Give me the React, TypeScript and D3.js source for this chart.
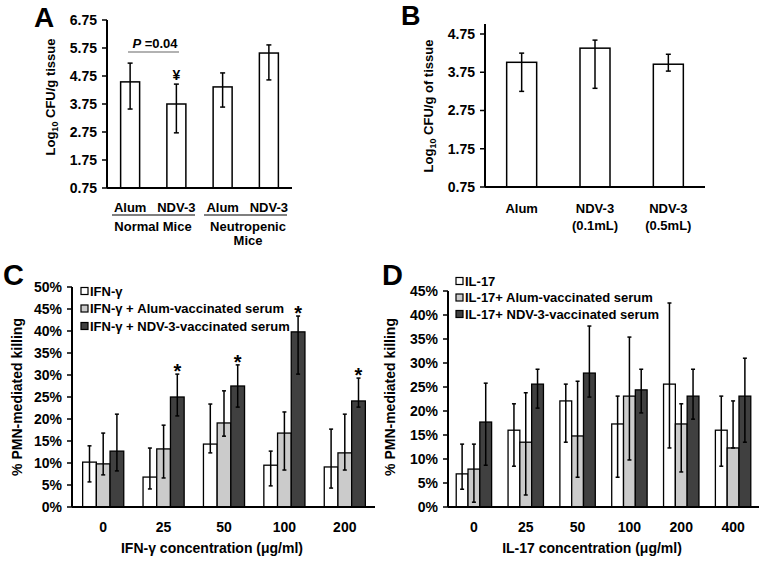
import React from "react";
import * as d3 from "d3";

// ---------- Panel A data ----------
const aCategories = ["Normal Alum", "Normal NDV-3", "Neutropenic Alum", "Neutropenic NDV-3"];
const aValues = [4.54, 3.75, 4.36, 5.57];
const aErrHigh = [5.21, 4.46, 4.86, 5.86];
const aErrLow = [3.57, 2.72, 3.64, 4.61];
const aTicks = [0.75, 1.75, 2.75, 3.75, 4.75, 5.75, 6.75];

// ---------- Panel B data ----------
const bCategories = ["Alum", "NDV-3 (0.1mL)", "NDV-3 (0.5mL)"];
const bValues = [4.01, 4.38, 3.96];
const bErrHigh = [4.25, 4.59, 4.22];
const bErrLow = [3.25, 3.33, 3.78];
const bTicks = [0.75, 1.75, 2.75, 3.75, 4.75];

// ---------- Panel C data ----------
const cCategories = ["0", "25", "50", "100", "200"];
const cSeries = ["IFN-γ", "IFN-γ + Alum-vaccinated serum", "IFN-γ + NDV-3-vaccinated serum"];
const cIfn = [10.2, 6.8, 14.3, 9.5, 9.1];
const cIfnHigh = [13.9, 13.4, 23.4, 12.7, 17.7];
const cIfnLow = [5.7, 4.1, 12.3, 4.8, 4.3];
const cAlum = [9.8, 13.2, 19.1, 16.8, 12.3];
const cAlumHigh = [16.8, 18.6, 26.4, 21.6, 21.1];
const cAlumLow = [7.3, 6.6, 16.1, 8.4, 8.4];
const cNdv = [12.7, 25.0, 27.5, 39.8, 24.1];
const cNdvHigh = [21.1, 30.2, 32.3, 43.4, 29.3];
const cNdvLow = [8.2, 20.7, 22.7, 30.2, 22.7];
const cStars = [false, true, true, true, true];
const cTicks = [0, 5, 10, 15, 20, 25, 30, 35, 40, 45, 50];

// ---------- Panel D data ----------
const dCategories = ["0", "25", "50", "100", "200", "400"];
const dSeries = ["IL-17", "IL-17+ Alum-vaccinated serum", "IL-17+ NDV-3-vaccinated serum"];
const dIl = [6.9, 16.0, 22.1, 17.3, 25.6, 16.0];
const dIlHigh = [13.1, 21.5, 25.6, 23.1, 42.5, 23.1];
const dIlLow = [3.7, 8.5, 13.5, 6.2, 12.3, 8.5];
const dAlum = [7.9, 13.5, 14.8, 23.1, 17.3, 12.3];
const dAlumHigh = [13.1, 23.8, 26.2, 35.4, 21.5, 22.1];
const dAlumLow = [1.0, 2.5, 6.2, 9.8, 7.3, 12.3];
const dNdv = [17.7, 25.6, 27.9, 24.4, 23.1, 23.1];
const dNdvHigh = [25.8, 28.7, 37.7, 28.7, 28.7, 31.0];
const dNdvLow = [8.7, 20.6, 22.9, 19.6, 18.3, 13.5];
const dTicks = [0, 5, 10, 15, 20, 25, 30, 35, 40, 45];

const seriesFill = ["#ffffff", "#cbcbcb", "#404040"];
const FONT = "'Liberation Sans', Arial, Helvetica, sans-serif";

function ErrBar({ x, y1, y2, cap = 2.5 }: { x: number; y1: number; y2: number; cap?: number }) {
  return (
    <g stroke="#000" strokeWidth={1.5}>
      <line x1={x} x2={x} y1={y1} y2={y2} />
      <line x1={x - cap} x2={x + cap} y1={y1} y2={y1} />
      <line x1={x - cap} x2={x + cap} y1={y2} y2={y2} />
    </g>
  );
}

function YAxis({ x, y, ticks, fmt, top, labelGap }: any) {
  return (
    <g>
      <line x1={x} x2={x} y1={top} y2={y.range()[0]} stroke="#000" strokeWidth={2} />
      {ticks.map((t: number) => (
        <g key={t}>
          <line x1={x - 5} x2={x} y1={y(t)} y2={y(t)} stroke="#000" strokeWidth={1.5} />
          <text x={x - labelGap} y={y(t)} dy="0.35em" textAnchor="end" fontSize={14} fontWeight="bold">
            {fmt(t)}
          </text>
        </g>
      ))}
    </g>
  );
}

function PanelA() {
  const y = d3.scaleLinear().domain([0.75, 6.75]).range([188, 20]);
  const x = d3.scaleBand().domain(aCategories).range([107, 292]);
  const bw = 19;
  const cx = (c: string) => (x(c) as number) + x.bandwidth() / 2;
  return (
    <g>
      <text x={34} y={27} fontSize={28} fontWeight="bold">A</text>
      <text transform={`translate(55,97) rotate(-90)`} textAnchor="middle" fontSize={13} fontWeight="bold">
        Log<tspan fontSize={9} dy={3}>10</tspan><tspan dy={-3}> CFU/g tissue</tspan>
      </text>
      {aCategories.map((c, i) => (
        <g key={c}>
          <rect x={cx(c) - bw / 2} y={y(aValues[i])} width={bw} height={y(0.75) - y(aValues[i])} fill="#fff" stroke="#000" strokeWidth={1.5} />
          <ErrBar x={cx(c)} y1={y(aErrHigh[i])} y2={y(aErrLow[i])} />
        </g>
      ))}
      <YAxis x={107} y={y} ticks={aTicks} fmt={(t: number) => t.toFixed(2)} top={20} labelGap={10} />
      <line x1={107} x2={292} y1={188} y2={188} stroke="#000" strokeWidth={2} />
      <line x1={128} x2={179} y1={52} y2={52} stroke="#666" strokeWidth={1.2} />
      <text x={155} y={48} textAnchor="middle" fontSize={13} fontWeight="bold">
        <tspan fontStyle="italic">P</tspan> =0.04
      </text>
      <text x={cx(aCategories[1])} y={80} textAnchor="middle" fontSize={14} fontWeight="bold">¥</text>
      <g fontSize={13} fontWeight="bold" textAnchor="middle">
        <text x={cx(aCategories[0])} y={212}>Alum</text>
        <text x={cx(aCategories[1])} y={212}>NDV-3</text>
        <text x={cx(aCategories[2])} y={212}>Alum</text>
        <text x={cx(aCategories[3])} y={212}>NDV-3</text>
        <text x={153} y={231}>Normal Mice</text>
        <text x={248} y={231}>Neutropenic</text>
        <text x={248} y={245}>Mice</text>
      </g>
      <line x1={112} x2={195} y1={215} y2={215} stroke="#000" strokeWidth={1.2} />
      <line x1={204} x2={287} y1={215} y2={215} stroke="#000" strokeWidth={1.2} />
    </g>
  );
}

function PanelB() {
  const y = d3.scaleLinear().domain([0.75, 4.75]).range([187, 34]);
  const x = d3.scaleBand().domain(bCategories).range([485, 705]);
  const bw = 30;
  const cx = (c: string) => (x(c) as number) + x.bandwidth() / 2;
  return (
    <g>
      <text x={401} y={25} fontSize={27} fontWeight="bold">B</text>
      <text transform={`translate(433,106) rotate(-90)`} textAnchor="middle" fontSize={13} fontWeight="bold">
        Log<tspan fontSize={9} dy={3}>10</tspan><tspan dy={-3}> CFU/g of tissue</tspan>
      </text>
      {bCategories.map((c, i) => (
        <g key={c}>
          <rect x={cx(c) - bw / 2} y={y(bValues[i])} width={bw} height={y(0.75) - y(bValues[i])} fill="#fff" stroke="#000" strokeWidth={1.5} />
          <ErrBar x={cx(c)} y1={y(bErrHigh[i])} y2={y(bErrLow[i])} />
        </g>
      ))}
      <YAxis x={485} y={y} ticks={bTicks} fmt={(t: number) => t.toFixed(2)} top={24} labelGap={10} />
      <line x1={485} x2={705} y1={187} y2={187} stroke="#000" strokeWidth={2} />
      <g fontSize={13} fontWeight="bold" textAnchor="middle">
        <text x={cx(bCategories[0])} y={213}>Alum</text>
        <text x={cx(bCategories[1])} y={213}>NDV-3</text>
        <text x={cx(bCategories[1])} y={230}>(0.1mL)</text>
        <text x={cx(bCategories[2])} y={213}>NDV-3</text>
        <text x={cx(bCategories[2])} y={230}>(0.5mL)</text>
      </g>
    </g>
  );
}

function GroupedPanel({ letter, letterX, cats, series, vals, highs, lows, stars, ticks, yMax, yTop, axisX, xEnd, bandStart, bw, legendX, legendY, legendStep, yLabelX, xLabel, xLabelX }: any) {
  const y = d3.scaleLinear().domain([0, yMax]).range([507, yTop]);
  const x = d3.scaleBand().domain(cats).range([bandStart, xEnd]);
  const sx = d3.scaleBand().domain(series.map((_: any, i: number) => String(i))).range([-1.5 * bw, 1.5 * bw]);
  return (
    <g>
      <text x={letterX} y={285} fontSize={29} fontWeight="bold">{letter}</text>
      <text transform={`translate(${yLabelX},397) rotate(-90)`} textAnchor="middle" fontSize={14} fontWeight="bold">
        % PMN-mediated killing
      </text>
      {cats.map((c: string, gi: number) => {
        const gc = (x(c) as number) + x.bandwidth() / 2;
        return (
          <g key={c}>
            {series.map((_: string, si: number) => {
              const bx = gc + (sx(String(si)) as number);
              const v = vals[si][gi];
              return (
                <rect key={si} x={bx} y={y(v)} width={bw} height={y(0) - y(v)} fill={seriesFill[si]} stroke="#000" strokeWidth={1.3} />
              );
            })}
            {series.map((_: string, si: number) => {
              const bx = gc + (sx(String(si)) as number) + bw / 2;
              return <ErrBar key={si} x={bx} y1={y(highs[si][gi])} y2={y(lows[si][gi])} cap={2} />;
            })}
            {stars && stars[gi] && (
              <text x={gc + (sx("2") as number) + bw / 2} y={y(highs[2][gi]) + 4} textAnchor="middle" fontSize={20} fontWeight="bold">*</text>
            )}
            <text x={gc} y={532} textAnchor="middle" fontSize={14} fontWeight="bold">{c}</text>
          </g>
        );
      })}
      <YAxis x={axisX} y={y} ticks={ticks} fmt={(t: number) => `${t}%`} top={yTop} labelGap={10} />
      <line x1={axisX} x2={xEnd} y1={507} y2={507} stroke="#000" strokeWidth={2} />
      {series.map((s: string, si: number) => (
        <g key={s}>
          <rect x={legendX} y={legendY + si * legendStep - 3.5} width={7} height={7} fill={seriesFill[si]} stroke="#000" strokeWidth={1.2} />
          <text x={legendX + 9} y={legendY + si * legendStep} dy="0.35em" fontSize={13} fontWeight="bold">{s}</text>
        </g>
      ))}
      <text x={xLabelX} y={553} textAnchor="middle" fontSize={14} fontWeight="bold">{xLabel}</text>
    </g>
  );
}

export default function App() {
  return (
    <svg width={764} height={562} style={{ display: "block", position: "absolute", left: 0, top: 0 }} fontFamily={FONT}>
      <rect width={764} height={562} fill="#fff" />
      <PanelA />
      <PanelB />
      <GroupedPanel
        letter="C" letterX={3} cats={cCategories} series={cSeries}
        vals={[cIfn, cAlum, cNdv]} highs={[cIfnHigh, cAlumHigh, cNdvHigh]} lows={[cIfnLow, cAlumLow, cNdvLow]}
        stars={cStars} ticks={cTicks} yMax={50} yTop={287} axisX={72} xEnd={375} bandStart={73} bw={13.7}
        legendX={81} legendY={291} legendStep={17.5} yLabelX={22}
        xLabel="IFN-γ concentration (μg/ml)" xLabelX={212}
      />
      <GroupedPanel
        letter="D" letterX={382} cats={dCategories} series={dSeries}
        vals={[dIl, dAlum, dNdv]} highs={[dIlHigh, dAlumHigh, dNdvHigh]} lows={[dIlLow, dAlumLow, dNdvLow]}
        stars={null} ticks={dTicks} yMax={45} yTop={291} axisX={448} xEnd={759} bandStart={448} bw={11.8}
        legendX={456} legendY={281} legendStep={16.5} yLabelX={395}
        xLabel="IL-17 concentration (μg/ml)" xLabelX={592}
      />
    </svg>
  );
}
